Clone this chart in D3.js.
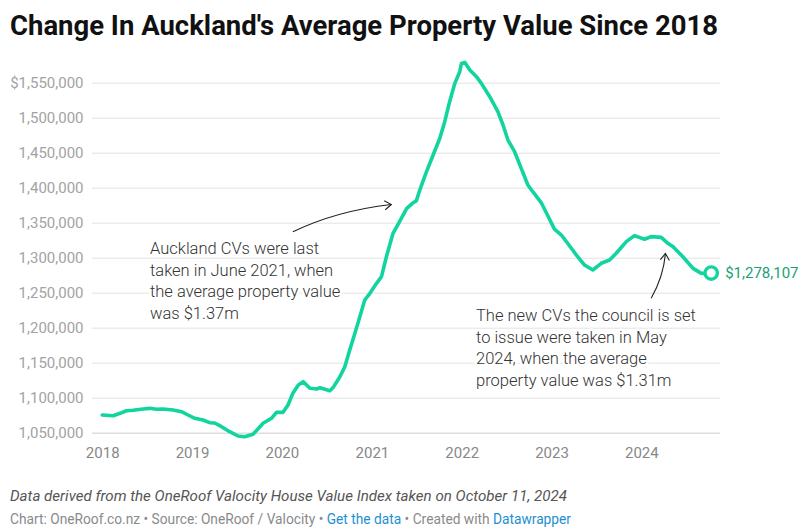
<!DOCTYPE html>
<html>
<head>
<meta charset="utf-8">
<script src="https://cdn.jsdelivr.net/npm/d3@7"></script>
<style>
  html, body { margin: 0; padding: 0; background: #fff; }
  svg { display: block; font-family: Roboto, "Noto Sans", sans-serif; }
</style>
</head>
<body>
<svg id="chart" width="809" height="532"></svg>
<script>
// ---- data ----
const dates = [
  "2018-01-01","2018-02-15","2018-03-14","2018-04-10","2018-05-06","2018-06-16","2018-07-13","2018-08-09",
  "2018-09-05","2018-10-16","2018-11-19","2018-12-16","2019-01-12","2019-02-15","2019-03-14","2019-04-03",
  "2019-05-01","2019-06-03","2019-07-07","2019-08-03","2019-09-06","2019-10-17","2019-11-20","2019-12-10",
  "2020-01-06","2020-01-26","2020-02-15","2020-03-08","2020-03-28","2020-04-24","2020-05-22","2020-06-04",
  "2020-06-24","2020-07-14","2020-07-28","2020-08-24","2020-09-13","2020-10-03","2020-10-24","2020-11-13",
  "2020-12-03","2020-12-24","2021-01-20","2021-02-09","2021-03-01","2021-03-28","2021-04-24","2021-05-22",
  "2021-06-18","2021-07-01","2021-07-15","2021-08-11","2021-09-07","2021-10-04","2021-10-24","2021-11-13",
  "2021-12-04","2021-12-24","2021-12-31","2022-01-14","2022-02-03","2022-03-02","2022-03-22","2022-04-25",
  "2022-05-28","2022-06-18","2022-07-08","2022-08-04","2022-08-31","2022-09-27","2022-10-17","2022-11-20",
  "2022-12-17","2023-01-13","2023-02-10","2023-03-28","2023-04-17","2023-05-15","2023-06-18","2023-07-22",
  "2023-08-25","2023-09-21","2023-11-01","2023-12-04","2024-01-14","2024-02-10","2024-03-22","2024-04-18",
  "2024-05-09","2024-06-18","2024-07-29","2024-09-01","2024-10-11"
];
const values = [
  1075300,1074300,1077700,1081400,1082000,1083900,1084800,1083400,
  1083900,1082400,1080000,1075300,1070600,1068100,1064300,1063900,
  1058600,1051400,1045300,1044300,1047700,1063400,1070600,1079100,
  1079100,1089600,1106300,1118100,1122900,1113400,1112400,1114300,
  1112000,1110000,1114800,1130000,1144300,1168100,1192000,1215700,
  1239600,1249100,1263400,1272900,1301400,1334900,1352000,1370000,
  1378600,1381500,1397000,1422900,1446700,1470600,1494300,1522900,
  1549100,1565700,1577600,1579000,1568100,1558600,1549100,1530000,
  1508600,1489600,1468100,1451400,1427700,1403900,1394300,1378800,
  1360000,1340800,1332400,1311000,1301400,1289600,1282400,1292000,
  1296700,1306300,1322900,1331500,1326300,1330100,1329100,1320500,
  1315700,1301400,1284800,1277600,1278107
];
const yTicks = [1050000,1100000,1150000,1200000,1250000,1300000,1350000,1400000,1450000,1500000,1550000];
const xTickLabels = ["2018","2019","2020","2021","2022","2023","2024"];

const titleText = "Change In Auckland's Average Property Value Since 2018";
const noteText = "Data derived from the OneRoof Valocity House Value Index taken on October 11, 2024";
const annotation1 = ["Auckland CVs were last","taken in June 2021, when","the average property value","was $1.37m"];
const annotation2 = ["The new CVs the council is set","to issue were taken in May","2024, when the average","property value was $1.31m"];

// ---- setup ----
const parse = d3.timeParse("%Y-%m-%d");
const data = dates.map((d, i) => ({ date: parse(d), value: values[i] }));

const svg = d3.select("#chart");
const lineColor = "#12d49e";
const labelGreen = "#1a9f77";

const x = d3.scaleTime()
  .domain([parse("2018-01-01"), parse("2024-10-11")])
  .range([102.2, 711.2]);
const y = d3.scaleLinear()
  .domain([1050000, 1550000])
  .range([432.7, 82.7]);

const gridLeft = 92, gridRight = 720;

// title
svg.append("text")
  .attr("x", 10).attr("y", 35)
  .attr("font-size", 28).attr("font-weight", 700)
  .attr("fill", "#111")
  .attr("textLength", 708).attr("lengthAdjust", "spacingAndGlyphs")
  .text(titleText);

// y gridlines + labels
const fmt = d3.format(",");
const yAxis = d3.axisLeft(y)
  .tickValues(yTicks)
  .tickSize(-(gridRight - gridLeft))
  .tickPadding(9)
  .tickFormat((d, i) => (d === 1550000 ? "$" : "") + fmt(d));
const gy = svg.append("g").attr("transform", `translate(${gridLeft},0)`).call(yAxis);
gy.select(".domain").remove();
gy.selectAll(".tick line").attr("stroke", "#e3e3e3").attr("stroke-width", 1);
gy.selectAll(".tick text")
  .attr("fill", "#a3a3a3").attr("font-size", 15)
  .attr("font-family", "Roboto, sans-serif")
  .attr("x", -(gridLeft - 83.5));
gy.selectAll(".tick").filter(d => d === 1050000).select("line").attr("stroke", "#dedede").attr("stroke-width", 1.5);

// x axis labels
const xTicks = xTickLabels.map(s => parse(s + "-01-01"));
const xAxis = d3.axisBottom(x)
  .tickValues(xTicks)
  .tickSize(0)
  .tickPadding(0)
  .tickFormat(d3.timeFormat("%Y"));
const gx = svg.append("g").attr("transform", `translate(0,447)`).call(xAxis);
gx.select(".domain").remove();
gx.selectAll(".tick text")
  .attr("fill", "#888").attr("font-size", 15)
  .attr("font-family", "Roboto, sans-serif")
  .attr("dy", "0.71em");

// annotations text (with white halo)
function addAnnotation(lines, x0, y0) {
  const t = svg.append("text")
    .attr("font-size", 16.5).attr("font-weight", 300).attr("fill", "#333")
    .attr("stroke", "#fff").attr("stroke-width", 5)
    .attr("stroke-linejoin", "round")
    .attr("paint-order", "stroke");
  lines.forEach((l, i) => {
    t.append("tspan").attr("x", x0).attr("y", y0 + i * 21.6).text(l);
  });
}
addAnnotation(annotation1, 150, 254);
addAnnotation(annotation2, 476, 321);

// arrows (anchored to data space)
function arrow(fromD, fromV, ctrlD, ctrlV, toD, toV) {
  const p0 = [x(parse(fromD)), y(fromV)];
  const c = [x(parse(ctrlD)), y(ctrlV)];
  const p1 = [x(parse(toD)), y(toV)];
  svg.append("path")
    .attr("d", `M${p0[0]},${p0[1]} Q${c[0]},${c[1]} ${p1[0]},${p1[1]}`)
    .attr("fill", "none").attr("stroke", "#222").attr("stroke-width", 1.1);
  const ang = Math.atan2(p1[1] - c[1], p1[0] - c[0]);
  const L = 8, spread = 0.6;
  const a1 = [p1[0] - L * Math.cos(ang - spread), p1[1] - L * Math.sin(ang - spread)];
  const a2 = [p1[0] - L * Math.cos(ang + spread), p1[1] - L * Math.sin(ang + spread)];
  svg.append("path")
    .attr("d", `M${a1[0]},${a1[1]} L${p1[0]},${p1[1]} L${a2[0]},${a2[1]}`)
    .attr("fill", "none").attr("stroke", "#222").attr("stroke-width", 1.1)
    .attr("stroke-linejoin", "miter");
}
arrow("2020-02-15", 1337000, "2020-08-10", 1367000, "2021-03-21", 1376000);
arrow("2024-02-10", 1242000, "2024-03-31", 1273000, "2024-04-08", 1306000);

// line
const line = d3.line().x(d => x(d.date)).y(d => y(d.value)).curve(d3.curveLinear);
svg.append("path")
  .datum(data)
  .attr("d", line)
  .attr("fill", "none")
  .attr("stroke", lineColor)
  .attr("stroke-width", 3.6)
  .attr("stroke-linejoin", "round")
  .attr("stroke-linecap", "round");

// end point
const last = data[data.length - 1];
svg.append("circle")
  .attr("cx", x(last.date)).attr("cy", y(last.value))
  .attr("r", 6.2)
  .attr("fill", "#fff").attr("stroke", lineColor).attr("stroke-width", 3.4);
svg.append("text")
  .attr("x", x(last.date) + 14).attr("y", y(last.value))
  .attr("dy", "0.35em")
  .attr("font-size", 15).attr("fill", labelGreen)
  .text("$" + fmt(last.value));

// footer
svg.append("text")
  .attr("x", 10).attr("y", 501)
  .attr("font-size", 14).attr("font-style", "italic").attr("fill", "#555")
  .attr("textLength", 557).attr("lengthAdjust", "spacingAndGlyphs")
  .text(noteText);

const foot = svg.append("text")
  .attr("x", 10).attr("y", 524)
  .attr("font-size", 14).attr("fill", "#8a8a8a")
  .attr("textLength", 561).attr("lengthAdjust", "spacingAndGlyphs");
foot.append("tspan").text("Chart: OneRoof.co.nz • Source: OneRoof / Valocity • ");
foot.append("tspan").attr("fill", "#1d8fd1").text("Get the data");
foot.append("tspan").text(" • Created with ");
foot.append("tspan").attr("fill", "#1d8fd1").text("Datawrapper");
</script>
</body>
</html>
